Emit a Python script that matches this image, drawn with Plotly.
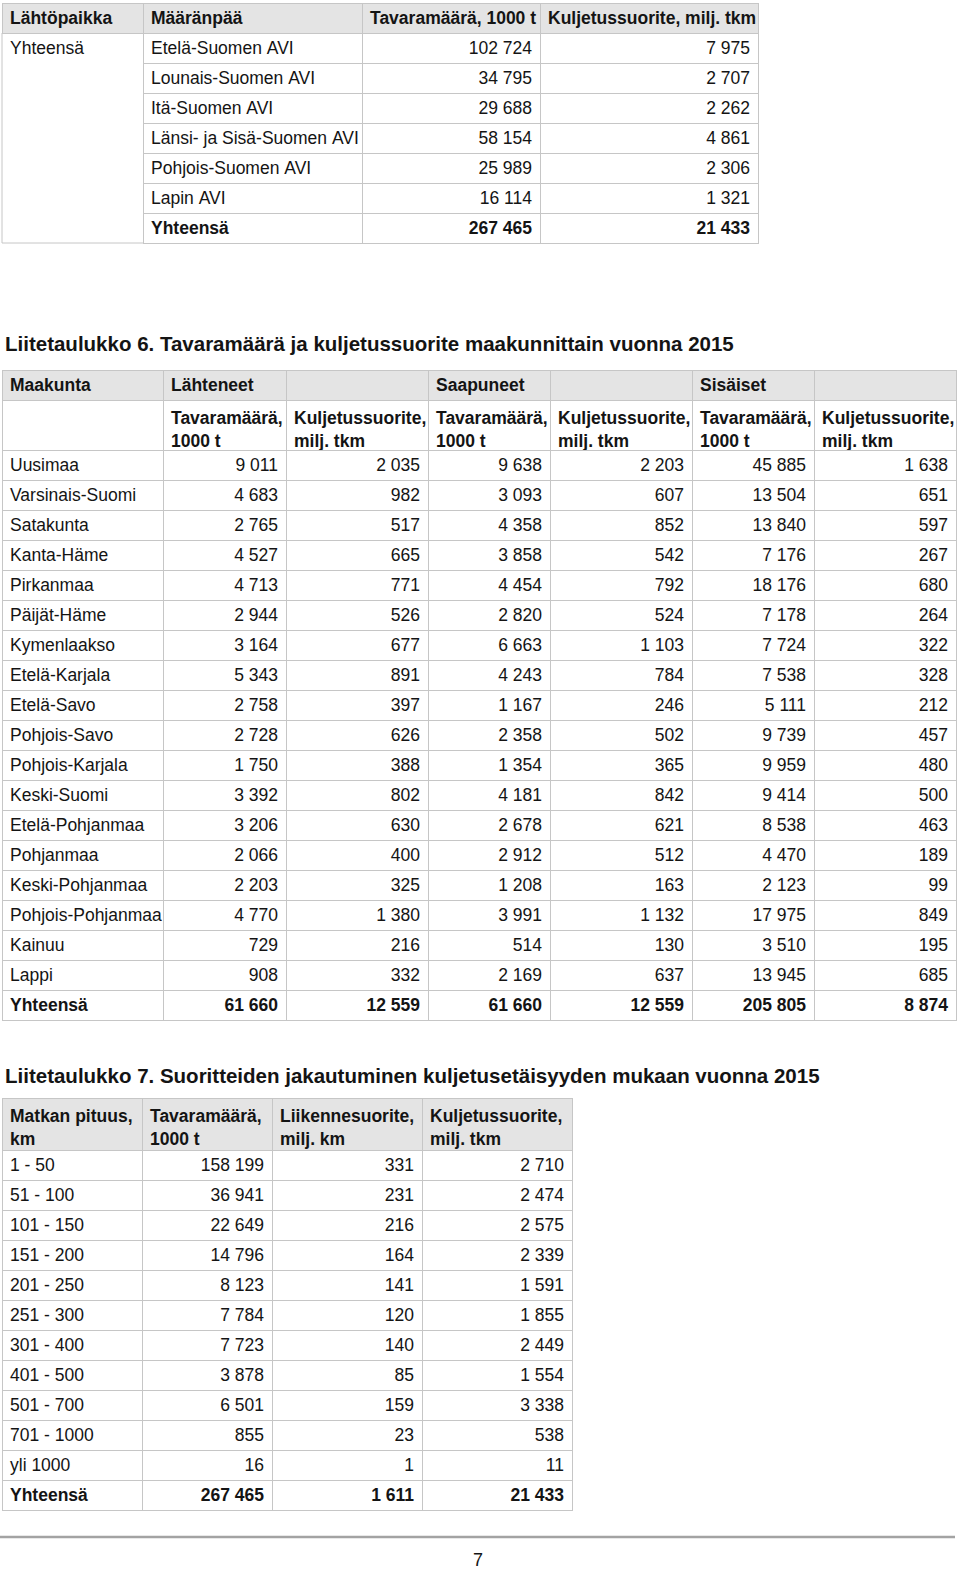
import plotly.graph_objects as go

# ---------------- data ----------------
# Table 1
t1_origin = ["Yhteensä", "", "", "", "", "", ""]
t1_dest = ["Etelä-Suomen AVI", "Lounais-Suomen AVI", "Itä-Suomen AVI",
           "Länsi- ja Sisä-Suomen AVI", "Pohjois-Suomen AVI", "Lapin AVI", "Yhteensä"]
t1_tons = [102724, 34795, 29688, 58154, 25989, 16114, 267465]
t1_tkm = [7975, 2707, 2262, 4861, 2306, 1321, 21433]
t1_header = ["Lähtöpaikka", "Määränpää", "Tavaramäärä, 1000 t", "Kuljetussuorite, milj. tkm"]

# Table 6
t6_title = "Liitetaulukko 6. Tavaramäärä ja kuljetussuorite maakunnittain vuonna 2015"
t6_header = ["Maakunta", "Lähteneet", "", "Saapuneet", "", "Sisäiset", ""]
t6_sub = ["", "Tavaramäärä,<br>1000 t", "Kuljetussuorite,<br>milj. tkm",
          "Tavaramäärä,<br>1000 t", "Kuljetussuorite,<br>milj. tkm",
          "Tavaramäärä,<br>1000 t", "Kuljetussuorite,<br>milj. tkm"]
t6_regions = ["Uusimaa", "Varsinais-Suomi", "Satakunta", "Kanta-Häme", "Pirkanmaa",
              "Päijät-Häme", "Kymenlaakso", "Etelä-Karjala", "Etelä-Savo", "Pohjois-Savo",
              "Pohjois-Karjala", "Keski-Suomi", "Etelä-Pohjanmaa", "Pohjanmaa",
              "Keski-Pohjanmaa", "Pohjois-Pohjanmaa", "Kainuu", "Lappi", "Yhteensä"]
t6_out_tons = [9011, 4683, 2765, 4527, 4713, 2944, 3164, 5343, 2758, 2728, 1750, 3392,
               3206, 2066, 2203, 4770, 729, 908, 61660]
t6_out_tkm = [2035, 982, 517, 665, 771, 526, 677, 891, 397, 626, 388, 802, 630, 400,
              325, 1380, 216, 332, 12559]
t6_in_tons = [9638, 3093, 4358, 3858, 4454, 2820, 6663, 4243, 1167, 2358, 1354, 4181,
              2678, 2912, 1208, 3991, 514, 2169, 61660]
t6_in_tkm = [2203, 607, 852, 542, 792, 524, 1103, 784, 246, 502, 365, 842, 621, 512,
             163, 1132, 130, 637, 12559]
t6_int_tons = [45885, 13504, 13840, 7176, 18176, 7178, 7724, 7538, 5111, 9739, 9959,
               9414, 8538, 4470, 2123, 17975, 3510, 13945, 205805]
t6_int_tkm = [1638, 651, 597, 267, 680, 264, 322, 328, 212, 457, 480, 500, 463, 189,
              99, 849, 195, 685, 8874]

# Table 7
t7_title = "Liitetaulukko 7. Suoritteiden jakautuminen kuljetusetäisyyden mukaan vuonna 2015"
t7_header = ["Matkan pituus,<br>km", "Tavaramäärä,<br>1000 t",
             "Liikennesuorite,<br>milj. km", "Kuljetussuorite,<br>milj. tkm"]
t7_dist = ["1 - 50", "51 - 100", "101 - 150", "151 - 200", "201 - 250", "251 - 300",
           "301 - 400", "401 - 500", "501 - 700", "701 - 1000", "yli 1000", "Yhteensä"]
t7_tons = [158199, 36941, 22649, 14796, 8123, 7784, 7723, 3878, 6501, 855, 16, 267465]
t7_vkm = [331, 231, 216, 164, 141, 120, 140, 85, 159, 23, 1, 1611]
t7_tkm = [2710, 2474, 2575, 2339, 1591, 1855, 2449, 1554, 3338, 538, 11, 21433]

page_number = "7"

# ---------------- styling ----------------
W, H = 960, 1569
FONT = "Liberation Sans, Arial, Helvetica, sans-serif"
FS = 17.5
TXT = "#141414"
LINE = "#c6c6c6"
HEAD = "#e4e4e4"
ROW_H = 30
NB = "\u00a0"


def fx(x):
    return x / W


def fy(y):
    return 1 - y / H


def nb(s):
    # non-breaking spaces so plotly does not re-wrap the cell text
    return s.replace(" ", NB)


def fmt(v):
    return f"{v:,}".replace(",", NB)


def col(vals, numeric=True):
    return [fmt(v) if numeric else nb(v) for v in vals]


plain_font = dict(family=FONT, size=FS, color=TXT)
bold_font = dict(family=FONT, size=FS, color=TXT, weight="bold")
line = dict(color=LINE, width=1)

fig = go.Figure()


def add_body(cols, x0, x1, top, widths, align, line_colors=LINE, first_header=None):
    """Draw data rows; the last row (Yhteensä) is bold.

    If first_header is given it is used as the grey column header and all rows
    except the last two are the cells; otherwise the first row acts as header.
    The last two rows go into a second table whose header is the second last row
    and whose single cell row is the bold total row.
    """
    n = len(cols[0])
    lc = dict(color=line_colors, width=1)
    if first_header is not None:
        head = dict(values=first_header, fill_color=HEAD, line=line, align="left",
                    font=bold_font, height=ROW_H)
        body = [c[:n - 2] for c in cols]
        n_above = 1 + (n - 2)
    else:
        head = dict(values=[c[0] for c in cols], fill_color="white", line=lc,
                    align=align, font=plain_font, height=ROW_H)
        body = [c[1:n - 2] for c in cols]
        n_above = n - 2
    fig.add_trace(go.Table(
        domain=dict(x=[fx(x0), fx(x1)], y=[fy(top + ROW_H * (n_above + 1)), fy(top)]),
        columnwidth=widths, header=head,
        cells=dict(values=body, fill_color="white", line=lc, align=align,
                   font=plain_font, height=ROW_H),
    ))
    t2 = top + ROW_H * n_above
    fig.add_trace(go.Table(
        domain=dict(x=[fx(x0), fx(x1)], y=[fy(t2 + ROW_H * 2 + 15), fy(t2)]),
        columnwidth=widths,
        header=dict(values=[c[n - 2] for c in cols], fill_color="white", line=lc,
                    align=align, font=plain_font, height=ROW_H),
        cells=dict(values=[[c[n - 1]] for c in cols], fill_color="white", line=lc,
                   align=align, font=bold_font, height=ROW_H),
    ))


# ---- Table 1 ----
t1_cols = [t1_origin, col(t1_dest, numeric=False), col(t1_tons), col(t1_tkm)]
add_body(t1_cols, 2, 758, 3, [141, 219, 178, 218], ["left", "left", "right", "right"],
         line_colors=["white", LINE, LINE, LINE],
         first_header=[nb(h) for h in t1_header])

# ---- Table 6: group header + sub header ----
t6_widths = [161, 123, 142, 122, 142, 122, 142]
fig.add_trace(go.Table(
    domain=dict(x=[fx(2), fx(956)], y=[fy(485), fy(370)]),
    columnwidth=t6_widths,
    header=dict(values=t6_header, fill_color=HEAD, line=line,
                align="left", font=bold_font, height=ROW_H),
    cells=dict(values=[[nb(v)] for v in t6_sub], fill_color="white", line=line,
               align="left", font=bold_font, height=ROW_H),
))
# ---- Table 6: data rows ----
t6_cols = [col(t6_regions, numeric=False), col(t6_out_tons), col(t6_out_tkm),
           col(t6_in_tons), col(t6_in_tkm), col(t6_int_tons), col(t6_int_tkm)]
add_body(t6_cols, 2, 956, 450, t6_widths, ["left"] + ["right"] * 6)

# ---- Table 7: header ----
t7_widths = [140, 130, 150, 150]
fig.add_trace(go.Table(
    domain=dict(x=[fx(2), fx(572)], y=[fy(1173), fy(1098)]),
    columnwidth=t7_widths,
    header=dict(values=[nb(h) for h in t7_header], fill_color=HEAD, line=line,
                align="left", font=bold_font, height=ROW_H),
    cells=dict(values=[[""] for _ in t7_header], fill_color="white", line=line,
               height=ROW_H),
))
# ---- Table 7: data rows ----
t7_cols = [col(t7_dist, numeric=False), col(t7_tons), col(t7_vkm), col(t7_tkm)]
add_body(t7_cols, 2, 572, 1150, t7_widths, ["left", "right", "right", "right"])

# titles
title_font = dict(family=FONT, size=20.5, color=TXT, weight="bold")
annotations = [
    dict(text=t6_title, x=fx(3), y=fy(343)),
    dict(text=t7_title, x=fx(3), y=fy(1075)),
]
for a in annotations:
    a.update(xref="paper", yref="paper", xanchor="left", yanchor="middle",
             showarrow=False, font=title_font)
annotations.append(dict(text=page_number, x=fx(478), y=fy(1560), xref="paper",
                        yref="paper", xanchor="center", yanchor="middle",
                        showarrow=False,
                        font=dict(family="Liberation Sans Narrow, " + FONT, size=18,
                                  color=TXT)))

shapes = [
    # outer border of the spanning first column of table 1
    dict(type="path", path=f"M {fx(2)} {fy(33)} L {fx(2)} {fy(243)} L {fx(143)} {fy(243)}",
         xref="paper", yref="paper", line=line, layer="above"),
    # footer rule
    dict(type="line", x0=0, x1=fx(955), y0=fy(1537), y1=fy(1537), xref="paper",
         yref="paper", line=dict(color="#a3a3a3", width=2.5)),
]

fig.update_layout(width=W, height=H, margin=dict(l=0, r=0, t=0, b=0),
                  paper_bgcolor="white", plot_bgcolor="white",
                  annotations=annotations, shapes=shapes)

fig.write_html("out.html", config={"displayModeBar": False},
               post_script="document.body.style.margin='0';")
